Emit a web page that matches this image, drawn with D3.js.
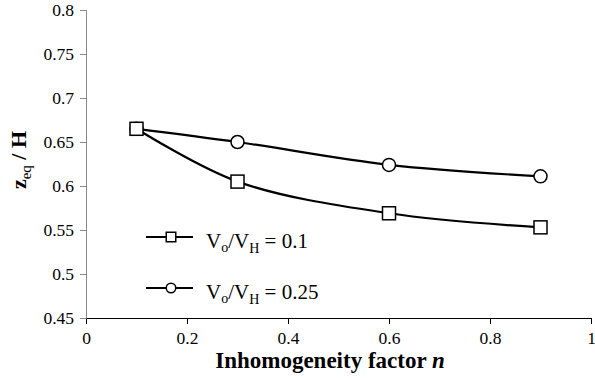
<!DOCTYPE html>
<html>
<head>
<meta charset="utf-8">
<script src="https://cdn.jsdelivr.net/npm/d3@7"></script>
<style>
  html, body { margin: 0; padding: 0; background: #fff; }
  svg, svg text { font-family: "Liberation Serif", "Times New Roman", serif; }
  svg { display: block; }
</style>
</head>
<body>
<svg id="chart" width="595" height="378"></svg>
<script>
// Inhomogeneity factor n
const nValues = [0.1, 0.3, 0.6, 0.9];
// Normalised equilibrium depth z_eq / H for each velocity ratio
const seriesLow = [0.665, 0.605, 0.569, 0.553];   // Vo/VH = 0.1
const seriesHigh = [0.665, 0.650, 0.624, 0.611];  // Vo/VH = 0.25
const xTicks = [0, 0.2, 0.4, 0.6, 0.8, 1];
const yTicks = [0.45, 0.5, 0.55, 0.6, 0.65, 0.7, 0.75, 0.8];

const svg = d3.select("#chart");
const x = d3.scaleLinear().domain([0, 1]).range([86, 591]);
const y = d3.scaleLinear().domain([0.45, 0.8]).range([318, 10]);

// axes
const xAxis = d3.axisBottom(x).tickValues(xTicks).tickSize(6).tickPadding(8)
  .tickFormat(d => d3.format("")(d));
const yAxis = d3.axisLeft(y).tickValues(yTicks).tickSize(6).tickPadding(6)
  .tickFormat(d => d3.format("")(d));

const gx = svg.append("g").attr("transform", `translate(0,${y(0.45)})`).call(xAxis);
const gy = svg.append("g").attr("transform", `translate(${x(0)},0)`).call(yAxis);
[gx, gy].forEach(g => {
  g.attr("font-family", "Liberation Serif").attr("font-size", 17.5);
  g.select(".domain").attr("stroke", "#000").attr("stroke-width", 1);
  g.selectAll(".tick line").attr("stroke", "#000");
  g.selectAll("text")
    .attr("font-family", "Liberation Serif")
    .style("font-family", "Liberation Serif")
    .style("font-size", "17.5px").attr("fill", "#000");
});
gy.select(".domain").attr("stroke", "#8a8a8a");
gy.selectAll(".tick line").attr("stroke", "#8a8a8a");

// axis titles
svg.append("text")
  .attr("x", 330).attr("y", 368)
  .attr("text-anchor", "middle")
  .attr("font-size", 23).attr("font-weight", "bold")
  .html('Inhomogeneity factor <tspan font-style="italic">n</tspan>');

const yt = svg.append("text")
  .attr("transform", `translate(26,160) rotate(-90)`)
  .attr("text-anchor", "middle")
  .attr("font-size", 22).attr("font-weight", "bold");
yt.append("tspan").text("z");
yt.append("tspan").attr("font-size", 15).attr("font-weight", "normal").attr("dy", 5).text("eq");
yt.append("tspan").attr("dy", -5).text(" / H");

// series
const line = d3.line().curve(d3.curveCatmullRom.alpha(0.5))
  .x(d => x(d[0])).y(d => y(d[1]));

const lowPts = nValues.map((n, i) => [n, seriesLow[i]]);
const highPts = nValues.map((n, i) => [n, seriesHigh[i]]);

[lowPts, highPts].forEach(pts => {
  svg.append("path").datum(pts).attr("d", line)
    .attr("fill", "none").attr("stroke", "#000").attr("stroke-width", 2.2);
});

function square(g, cx, cy, s) {
  g.append("rect").attr("x", cx - s / 2).attr("y", cy - s / 2).attr("width", s).attr("height", s)
    .attr("fill", "#fff").attr("stroke", "#000").attr("stroke-width", 1.5);
}
function circle(g, cx, cy, s) {
  g.append("circle").attr("cx", cx).attr("cy", cy).attr("r", s / 2)
    .attr("fill", "#fff").attr("stroke", "#000").attr("stroke-width", 1.5);
}

highPts.forEach(d => circle(svg, x(d[0]), y(d[1]), 13));
lowPts.forEach(d => square(svg, x(d[0]), y(d[1]), 13));

// legend
const legend = [
  { mark: square, label: "0.1", yy: 237 },
  { mark: circle, label: "0.25", yy: 288 }
];
legend.forEach(l => {
  svg.append("line").attr("x1", 146).attr("x2", 193).attr("y1", l.yy).attr("y2", l.yy)
    .attr("stroke", "#000").attr("stroke-width", 2.2);
  l.mark(svg, 171, l.yy, 9.5);
  const t = svg.append("text").attr("x", 206).attr("y", l.yy + 11).attr("font-size", 21);
  t.append("tspan").text("V");
  t.append("tspan").attr("font-size", 14).attr("dy", 4).text("o");
  t.append("tspan").attr("dy", -4).text("/V");
  t.append("tspan").attr("font-size", 14).attr("dy", 5).text("H");
  t.append("tspan").attr("dy", -5).text(" = " + l.label);
});
</script>
</body>
</html>
